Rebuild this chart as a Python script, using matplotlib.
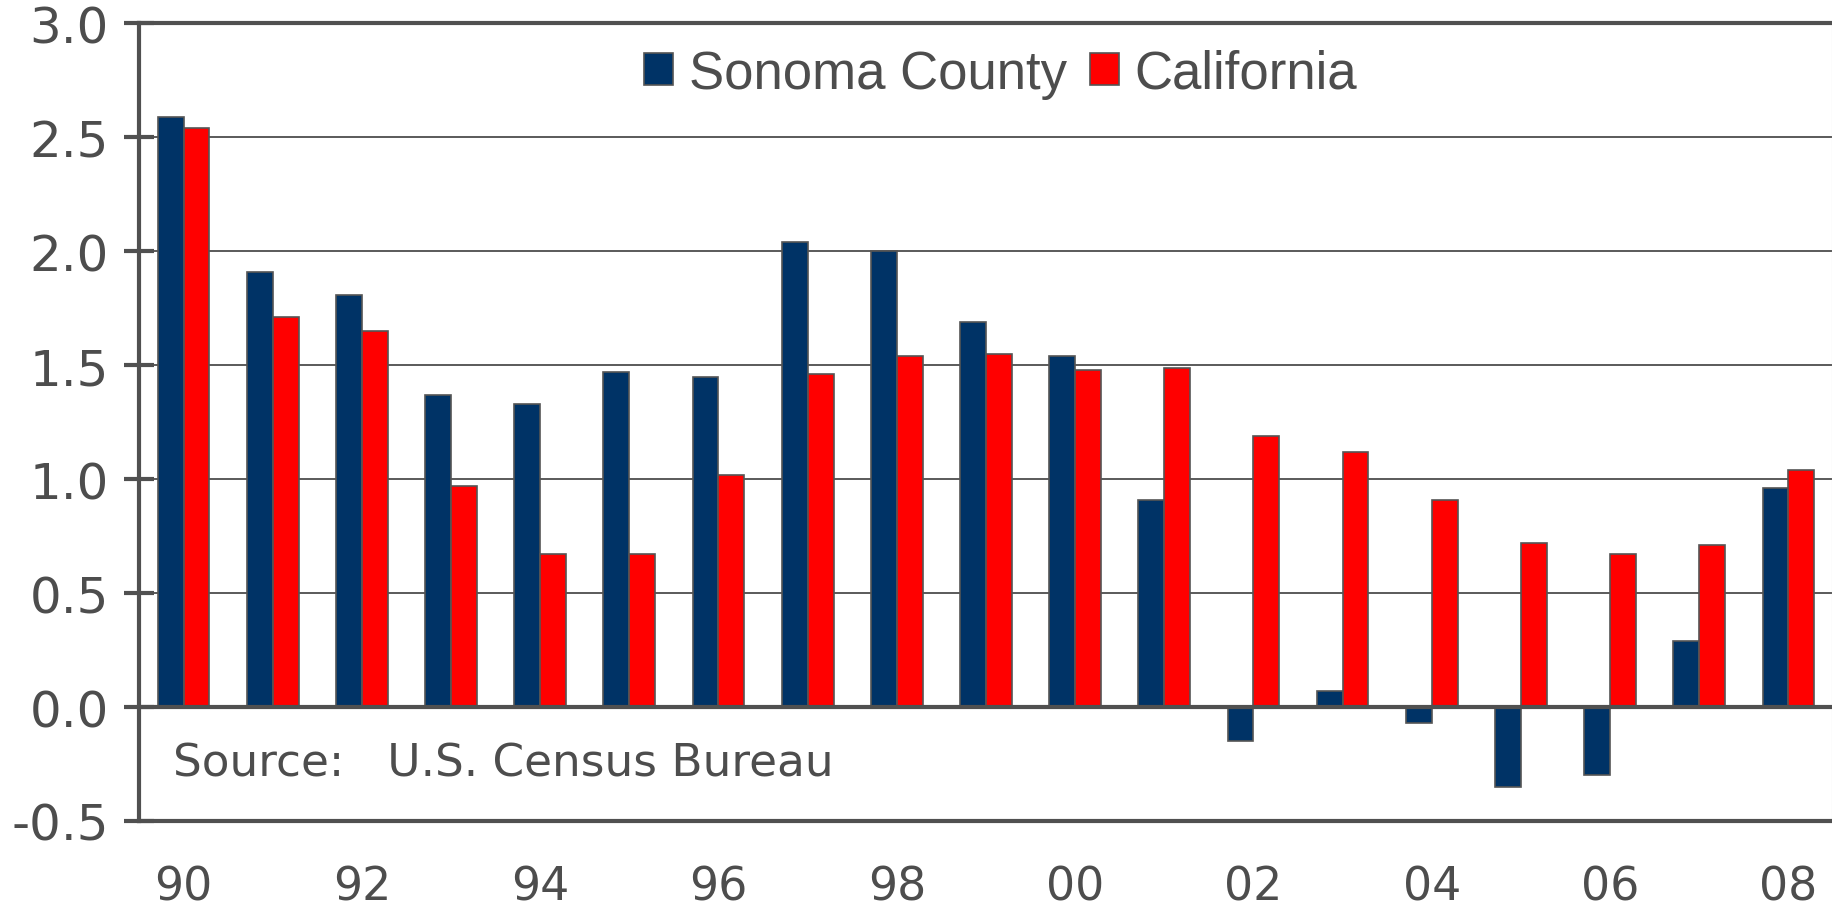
import numpy as np
import matplotlib.pyplot as plt

# annual population growth (%)
years = ['90', '91', '92', '93', '94', '95', '96', '97', '98', '99',
         '00', '01', '02', '03', '04', '05', '06', '07', '08']
sonoma = [2.59, 1.91, 1.81, 1.37, 1.33, 1.47, 1.45, 2.04, 2.00, 1.69,
          1.54, 0.91, -0.15, 0.07, -0.07, -0.35, -0.30, 0.29, 0.96]
california = [2.54, 1.71, 1.65, 0.97, 0.67, 0.67, 1.02, 1.46, 1.54, 1.55,
              1.48, 1.49, 1.19, 1.12, 0.91, 0.72, 0.67, 0.71, 1.04]
y_ticks = [-0.5, 0.0, 0.5, 1.0, 1.5, 2.0, 2.5, 3.0]

text_color = '#4d4d4d'
line_color = '#505050'

fig = plt.figure(figsize=(18.33, 9.12), dpi=100)
ax = fig.add_axes([0.0758, 0.0987, 0.9242, 0.8745])

x = np.arange(len(years))
w = 0.29
ax.bar(x - w / 2, sonoma, w, color='#003366', edgecolor='#555555',
       linewidth=1.2, label='Sonoma County', zorder=3)
ax.bar(x + w / 2, california, w, color='#ff0000', edgecolor='#555555',
       linewidth=1.2, label='California', zorder=3)

ax.set_xlim(-0.5, len(years) - 0.5)
ax.set_ylim(-0.5, 3.0)

# horizontal grid, zero line heavier
for v in y_ticks[2:-1]:
    ax.axhline(v, color='#5a5a5a', linewidth=1.4, zorder=1)
ax.axhline(0, color=line_color, linewidth=3, zorder=4)

for side in ['left', 'bottom', 'top']:
    ax.spines[side].set_color(line_color)
    ax.spines[side].set_linewidth(3)
ax.spines['right'].set_color('#bbbbbb')
ax.spines['right'].set_linewidth(1.5)

ax.set_yticks(y_ticks)
ax.set_yticklabels([f'{v:.1f}' for v in y_ticks])
ax.tick_params(axis='y', direction='inout', length=21, width=3,
               color=line_color, labelsize=36, labelcolor=text_color, pad=11)

ax.set_xticks(x[::2])
ax.set_xticklabels(years[::2])
ax.tick_params(axis='x', length=0, labelsize=33, labelcolor=text_color, pad=31)

ax.text(-0.117, -0.30, 'Source:   U.S. Census Bureau', fontsize=32.7,
        color=text_color, va='baseline')

leg = ax.legend(loc='center', bbox_to_anchor=(0.546, 0.918),
                bbox_transform=fig.transFigure, ncol=2, frameon=False,
                prop={'family': 'Liberation Sans', 'size': 38},
                handlelength=0.55, handleheight=0.55, handletextpad=0.3,
                columnspacing=0.43, borderpad=0)
for t in leg.get_texts():
    t.set_color(text_color)

fig.savefig('out.png', dpi=100)
